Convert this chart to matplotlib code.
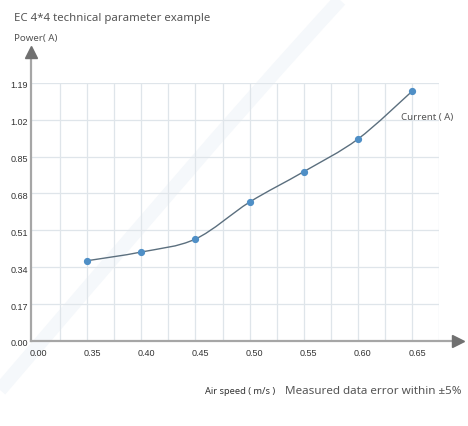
import matplotlib
matplotlib.use("Agg")
import matplotlib.pyplot as plt
import matplotlib.transforms as mtransforms
from matplotlib.path import Path
from matplotlib.patches import PathPatch

# data
speed_labels = ["0.00", "0.35", "0.40", "0.45", "0.50", "0.55", "0.60", "0.65"]
current = [0.37, 0.41, 0.47, 0.64, 0.78, 0.93, 1.15]
y_ticks = [0.00, 0.17, 0.34, 0.51, 0.68, 0.85, 1.02, 1.19]

fig = plt.figure(figsize=(4.68, 4.26), dpi=100)
W, H = 468, 426

# faint decorative swoosh in the background
swoosh = Path([(0 / W, 1 - 390 / H), (120 / W, 1 - 250 / H), (230 / W, 1 - 120 / H),
               (340 / W, 1 - 0 / H)],
              [Path.MOVETO, Path.CURVE4, Path.CURVE4, Path.CURVE4])
fig.patches.append(PathPatch(swoosh, fill=False, edgecolor="#f5f8fb", lw=10,
                             transform=fig.transFigure, zorder=-1))

ax = fig.add_axes([31 / W, 85 / H, 408 / W, 258.3 / H])
ax.patch.set_alpha(0)
ax.set_xlim(-0.04, 7.5)
ax.set_ylim(0, 1.19)

grid_c = "#dfe5ea"
for y in y_ticks[1:]:
    ax.axhline(y, color=grid_c, lw=0.9, zorder=0)
for i in range(1, 16):
    ax.axvline(i * 0.5, color=grid_c, lw=0.9, zorder=0)

for s in ["top", "right", "left", "bottom"]:
    ax.spines[s].set_visible(False)

# axes with arrows
axis_c = "#a6a6a6"
ax.plot([-0.04, -0.04], [0, 1.31], color=axis_c, lw=1.6, clip_on=False, zorder=3)
ax.plot([-0.04, 7.82], [0, 0], color=axis_c, lw=1.6, clip_on=False, zorder=3)
ax.plot([-0.04], [1.33], marker="^", ms=9, color="#707070", clip_on=False, zorder=4)
ax.plot([7.86], [0], marker=">", ms=9, color="#707070", clip_on=False, zorder=4)

# ticks
ax.set_xticks(range(len(speed_labels)))
ax.set_xticklabels(speed_labels, fontsize=6.5, color="#333333", family="Liberation Sans")
ax.set_yticks(y_ticks)
ax.set_yticklabels([f"{v:.2f}" for v in y_ticks], fontsize=6.5, color="#333333",
                   family="Liberation Sans")
ax.tick_params(axis="both", length=0)
ax.tick_params(axis="x", pad=6)
ax.tick_params(axis="y", pad=2)
off = mtransforms.ScaledTranslation(5 / 100, 0, fig.dpi_scale_trans)
for lab in ax.get_xticklabels():
    lab.set_transform(lab.get_transform() + off)
offy = mtransforms.ScaledTranslation(0, -2 / 100, fig.dpi_scale_trans)
for lab in ax.get_yticklabels():
    lab.set_transform(lab.get_transform() + offy)

# smooth line through the points (catmull-rom as bezier)
xs = list(range(1, len(current) + 1))
pts = list(zip(xs, current))
verts = [pts[0]]
codes = [Path.MOVETO]
for i in range(len(pts) - 1):
    p0 = pts[i - 1] if i > 0 else pts[i]
    p1 = pts[i]
    p2 = pts[i + 1]
    p3 = pts[i + 2] if i + 2 < len(pts) else pts[i + 1]
    c1 = (p1[0] + (p2[0] - p0[0]) / 6, p1[1] + (p2[1] - p0[1]) / 6)
    c2 = (p2[0] - (p3[0] - p1[0]) / 6, p2[1] - (p3[1] - p1[1]) / 6)
    verts += [c1, c2, p2]
    codes += [Path.CURVE4] * 3
ax.add_patch(PathPatch(Path(verts, codes), fill=False, edgecolor="#5b6f7e", lw=1.0, zorder=5))
ax.plot(xs, current, "o", ms=4.2, color="#4f8fc6", zorder=6)

ax.text(6.8, 1.02, "Current ( A)", fontsize=7, color="#555555", family="Noto Sans")

fig.text(14 / W, 1 - 19 / H, "EC 4*4 technical parameter example", fontsize=8.2,
         color="#555555", family="Noto Sans", va="center")
fig.text(14 / W, 1 - 38 / H, "Power( A)", fontsize=7, color="#555555",
         family="Noto Sans", va="center")
fig.text(205 / W, 1 - 392 / H, "Air speed ( m/s )", fontsize=6.7, color="#333333",
         family="Noto Sans", va="center")
fig.text(285 / W, 1 - 392 / H, "Measured data error within \u00b15%", fontsize=8.4,
         color="#555555", family="Noto Sans", va="center")

fig.savefig("out.png", dpi=100)
